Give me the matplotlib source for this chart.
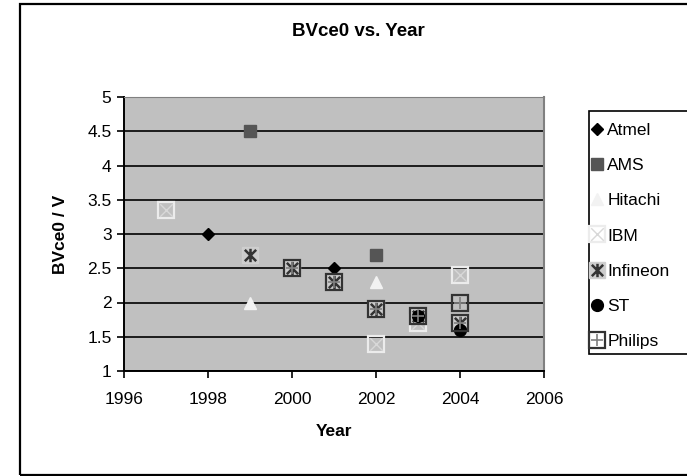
# -*- coding: utf-8 -*-

'''
BVce0 vs. Year scatter, Excel look
'''

import matplotlib
matplotlib.use('Agg')
import matplotlib.pyplot as plt
from matplotlib.path import Path
from matplotlib.lines import Line2D
from matplotlib.patches import Rectangle

plt.rcParams['font.family'] = ['Liberation Sans', 'DejaVu Sans']

# data
atmel_x = [1998, 2001]
atmel_y = [3.0, 2.5]
ams_x = [1999, 2002]
ams_y = [4.5, 2.7]
hitachi_x = [1999, 2002]
hitachi_y = [2.0, 2.3]
ibm_x = [1997, 2002, 2003, 2004]
ibm_y = [3.35, 1.4, 1.7, 2.4]
infineon_x = [1999, 2000, 2001, 2002, 2003, 2004]
infineon_y = [2.7, 2.5, 2.3, 1.9, 1.8, 1.7]
st_x = [2003, 2004]
st_y = [1.8, 1.6]
philips_x = [2000, 2001, 2002, 2003, 2004, 2004]
philips_y = [2.5, 2.3, 1.9, 1.8, 2.0, 1.7]

x_ticks = [1996, 1998, 2000, 2002, 2004, 2006]
y_ticks = [1, 1.5, 2, 2.5, 3, 3.5, 4, 4.5, 5]
y_labels = ['1', '1.5', '2', '2.5', '3', '3.5', '4', '4.5', '5']

################################################################################

# excel style asterisk: vertical bar plus an x
asterisk = Path([(0, -1), (0, 1), (-0.85, -0.85), (0.85, 0.85), (-0.85, 0.85), (0.85, -0.85)],
                [Path.MOVETO, Path.LINETO, Path.MOVETO, Path.LINETO, Path.MOVETO, Path.LINETO])
cross = Path([(-1, -1), (1, 1), (-1, 1), (1, -1)],
             [Path.MOVETO, Path.LINETO, Path.MOVETO, Path.LINETO])
plus = Path([(0, -1), (0, 1), (-1, 0), (1, 0)],
            [Path.MOVETO, Path.LINETO, Path.MOVETO, Path.LINETO])

BIG = 12

def style_atmel():
    return [dict(marker='D', ms=6.5, color='black', mec='black')]

def style_ams():
    return [dict(marker='s', ms=8, color='#555555', mec='#555555')]

def style_hitachi():
    return [dict(marker='^', ms=9, color='#f2f2f2', mec='#f2f2f2')]

def style_ibm():
    return [dict(marker='s', ms=BIG, mfc='none', mec='#ececec', mew=1.6),
            dict(marker=cross, ms=BIG * 0.75, mfc='none', mec='#d8d8d8', mew=1.0)]

def style_infineon():
    return [dict(marker='s', ms=BIG, mfc='#cccccc', mec='#cfcfcf', mew=1.0),
            dict(marker=asterisk, ms=BIG * 0.8, mfc='none', mec='#333333', mew=1.8)]

def style_st():
    return [dict(marker='o', ms=8.5, color='black', mec='black')]

def style_philips():
    return [dict(marker='s', ms=BIG, mfc='none', mec='#333333', mew=1.6),
            dict(marker=plus, ms=BIG * 0.75, mfc='none', mec='#808080', mew=1.2)]

def draw_series(ax, xs, ys, styles):
    for st in styles:
        ax.plot(xs, ys, linestyle='none', **st)

def legend_handle(styles):
    return tuple(Line2D([], [], linestyle='none', **st) for st in styles)

################################################################################

fig = plt.figure(figsize=(6.87, 4.76), dpi=100)
ax = fig.add_axes([124 / 687, 1 - 371 / 476, 420 / 687, 274 / 476])
ax.set_facecolor('#c0c0c0')

series = [
    ('Atmel', atmel_x, atmel_y, style_atmel()),
    ('AMS', ams_x, ams_y, style_ams()),
    ('Hitachi', hitachi_x, hitachi_y, style_hitachi()),
    ('IBM', ibm_x, ibm_y, style_ibm()),
    ('Infineon', infineon_x, infineon_y, style_infineon()),
    ('ST', st_x, st_y, style_st()),
    ('Philips', philips_x, philips_y, style_philips()),
]

for name, xs, ys, styles in series:
    draw_series(ax, xs, ys, styles)

ax.set_xlim(1996, 2006)
ax.set_ylim(1, 5)
ax.set_xticks(x_ticks)
ax.set_xticklabels([str(t) for t in x_ticks])
ax.set_yticks(y_ticks)
ax.set_yticklabels(y_labels)
ax.grid(axis='y', color='black', linewidth=1.2)
ax.set_axisbelow(True)
ax.tick_params(direction='out', length=5, width=1.2, labelsize=12.5, pad=4)
ax.tick_params(axis='x', pad=10)

ax.spines['left'].set_linewidth(1.4)
ax.spines['bottom'].set_linewidth(1.4)
ax.spines['top'].set_color('#808080')
ax.spines['right'].set_color('#808080')
ax.spines['right'].set_linewidth(1.5)

ax.set_xlabel('Year', fontsize=12.5, fontweight='bold', labelpad=12)
ax.set_ylabel('BVce0 / V', fontsize=12.5, fontweight='bold', labelpad=14)

fig.text(358 / 687, 1 - 32 / 476, 'BVce0 vs. Year', fontsize=13.5, fontweight='bold',
         ha='center', va='center')

# legend without its own frame, frame drawn below as a patch
handles = [legend_handle(s[3]) for s in series]
labels = [s[0] for s in series]
leg = fig.legend(handles, labels, loc='upper left', bbox_to_anchor=(589 / 687, 1 - 123 / 476),
                 bbox_transform=fig.transFigure, fontsize=12.5, frameon=False,
                 handlelength=0.9, handletextpad=0.15, labelspacing=1.15,
                 borderpad=0, borderaxespad=0)

fig.patches.append(Rectangle((589 / 687, 1 - 354 / 476), 120 / 687, 243 / 476,
                             transform=fig.transFigure, facecolor='white',
                             edgecolor='black', linewidth=1.2, zorder=0))

# chart area border
fig.patches.append(Rectangle((20 / 687, 1 / 476), 700 / 687, 471 / 476, transform=fig.transFigure,
                             fill=False, edgecolor='black', linewidth=1.6))

fig.savefig('out.png', dpi=100)
